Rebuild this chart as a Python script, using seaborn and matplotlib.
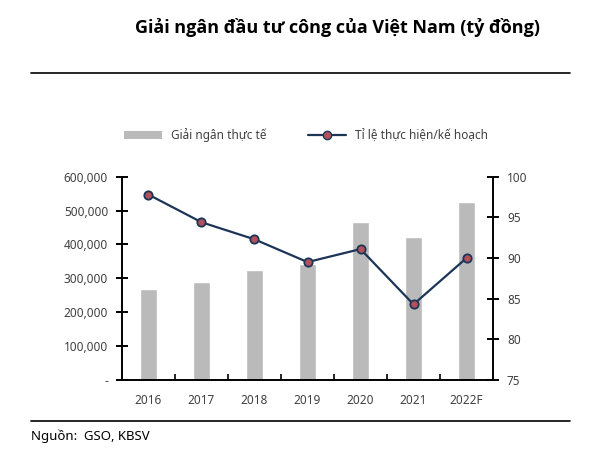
import pandas as pd
import matplotlib.pyplot as plt
import seaborn as sns
from matplotlib.lines import Line2D
from matplotlib.patches import Patch
from matplotlib.ticker import FuncFormatter

# Dữ liệu
years = ['2016', '2017', '2018', '2019', '2020', '2021', '2022F']
disbursed = [268000, 289000, 325000, 342000, 466000, 423000, 525000]
ratio = [97.8, 94.4, 92.3, 89.5, 91.1, 84.3, 90.0]

df = pd.DataFrame({'Năm': years, 'Giải ngân': disbursed, 'Tỉ lệ': ratio})

bar_color = '#bababa'
line_color = '#1c3557'
marker_color = '#b4505a'
tick_color = '#404040'

sns.set_theme(style='white')
plt.rcParams['font.family'] = ['Noto Sans', 'DejaVu Sans']

fig = plt.figure(figsize=(6, 4.62), dpi=100)
ax = fig.add_axes([0.2033, 0.1775, 0.6184, 0.44])

sns.barplot(data=df, x='Năm', y='Giải ngân', color=bar_color, width=0.31,
            saturation=1, ax=ax)
ax.set_ylim(0, 600000)
ax.set_xlim(-0.5, 6.5)
ax.yaxis.set_major_formatter(FuncFormatter(lambda v, p: '-' if v == 0 else f'{v:,.0f}'))
ax.set_xlabel('')
ax.set_ylabel('')

ax2 = ax.twinx()
sns.pointplot(data=df, x='Năm', y='Tỉ lệ', color=line_color, ax=ax2)
ln = ax2.lines[0]
ln.set_linewidth(1.6)
ln.set_marker('o')
ln.set_markersize(6)
ln.set_markerfacecolor(marker_color)
ln.set_markeredgecolor(line_color)
ln.set_markeredgewidth(1.3)
ax2.set_ylim(75, 100)
ax2.set_xlim(-0.5, 6.5)
ax2.set_yticks([75, 80, 85, 90, 95, 100])
ax2.set_ylabel('')

# Trục và vạch chia
for a in (ax, ax2):
    for s in a.spines.values():
        s.set_visible(False)
ax.spines['left'].set_visible(True)
ax.spines['bottom'].set_visible(True)
ax2.spines['right'].set_visible(True)
for s in (ax.spines['left'], ax.spines['bottom'], ax2.spines['right']):
    s.set_color('black')
    s.set_linewidth(1.4)

ax.set_xticks([0.5, 1.5, 2.5, 3.5, 4.5, 5.5], minor=True)
ax.set_xticks(range(len(years)))
ax.set_xticklabels(years)
ax.tick_params(axis='x', which='major', length=0, pad=10, labelsize=8.5, labelcolor=tick_color)
ax.tick_params(axis='x', which='minor', direction='in', length=4, width=1.2, color='black', bottom=True)
ax.tick_params(axis='y', direction='inout', length=8, width=1.4, color='black', left=True,
               labelsize=8.5, labelcolor=tick_color, pad=6)
ax2.tick_params(axis='y', direction='inout', length=8, width=1.4, color='black', right=True,
                labelsize=8.5, labelcolor=tick_color, pad=6)

# Chú thích
handles = [Patch(facecolor=bar_color, edgecolor='none'),
           Line2D([0], [0], color=line_color, lw=1.6, marker='o', markersize=6,
                  markerfacecolor=marker_color, markeredgecolor=line_color)]
fig.legend(handles, ['Giải ngân thực tế', 'Tỉ lệ thực hiện/kế hoạch'], ncol=2,
           loc='center', bbox_to_anchor=(0.51, 0.708), frameon=False, fontsize=8.5,
           handlelength=3.2, handleheight=0.7, columnspacing=3.5, labelcolor=tick_color)

# Tiêu đề, đường kẻ và nguồn
fig.text(0.562, 0.94, 'Giải ngân đầu tư công của Việt Nam (tỷ đồng)', ha='center', va='center',
         fontsize=13, fontweight='bold', color='black', family=['Open Sans', 'DejaVu Sans'])
fig.add_artist(Line2D([0.052, 0.95], [0.842, 0.842], color='black', lw=1.2))
fig.add_artist(Line2D([0.052, 0.95], [0.088, 0.088], color='black', lw=1.2))
fig.text(0.052, 0.055, 'Nguồn:  GSO, KBSV', ha='left', va='center', fontsize=9.5, color='black')

fig.savefig('out.png', dpi=100)
